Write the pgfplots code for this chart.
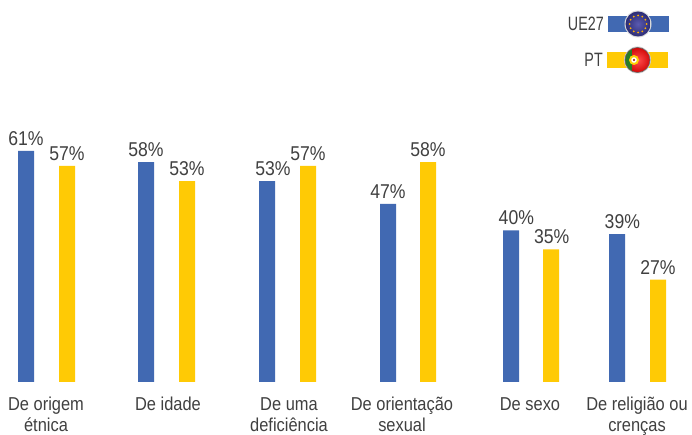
\documentclass[border=0pt]{standalone}
\usepackage{pgfplots}
\pgfplotsset{compat=1.18}
\usepackage{fontspec}
\setmainfont[FakeStretch=0.88]{Liberation Sans}
\newfontfamily\legfont[FakeStretch=0.74]{Liberation Sans}
\usetikzlibrary{calc}
\definecolor{euB}{HTML}{4169B2}
\definecolor{ptY}{HTML}{FFCA05}
\definecolor{txt}{HTML}{404040}
\definecolor{euIn}{HTML}{5A5AB0}
\definecolor{euOut}{HTML}{2C2C75}
\begin{document}
\begin{tikzpicture}[x=0.75pt,y=0.75pt]
\path[use as bounding box] (0,-53) rectangle (692,382);
\begin{axis}[
  at={(0,0)}, anchor=origin,
  scale only axis, width=519pt, height=286.5pt,
  xmin=0, xmax=692, ymin=0, ymax=100.79,
  clip=false,
  axis y line=none, axis x line*=bottom,
  axis line style={draw=none},
  ytick=\empty,
  xtick={46,168,289,402,530,637},
  xticklabels={De origem\\étnica,De idade,De uma\\deficiência,De orientação\\sexual,De sexo,De religião ou\\crenças},
  major tick length=0pt,
  xticklabel style={align=center,anchor=north,yshift=-7pt,text=txt,font=\fontsize{14}{15.75}\selectfont},
  typeset ticklabels with strut=false,
  visualization depends on={\thisrow{dx} \as \dx},
  nodes near coords={\pgfmathprintnumber[assume math mode=true]{\pgfplotspointmeta}\%},
  nodes near coords style={text=txt,font=\fontsize{15}{16}\selectfont,anchor=south,yshift=0.5pt,xshift=\dx pt,inner xsep=0pt},
  every axis plot/.append style={ybar,bar shift=0pt,bar width=12pt,draw=none},
]
\addplot[fill=euB] table[x=x,y=y] {
x y dx
26 61 0
146 58 0
267 53 4.5
388 47 0
511 40 4
617 39 4
};
\addplot[fill=ptY] table[x=x,y=y] {
x y dx
67 57 0
187 53 0
308 57 0
428 58 0
551 35 0.5
658 27 0
};
\end{axis}
% legend (y measured upward from the baseline, in reference pixels)
\fill[euB] (608,350) rectangle (669,366);
\fill[ptY] (607,314) rectangle (668,330);
\node[anchor=east,text=txt,inner sep=0pt,font=\legfont\fontsize{14.5}{16}\selectfont] at (604,358) {UE27};
\node[anchor=east,text=txt,inner sep=0pt,font=\legfont\fontsize{14.5}{16}\selectfont] at (603,322) {PT};
% EU badge
\fill[black!15] (638,358) circle (13.5);
\shade[inner color=euIn, outer color=euOut] (638,358) circle (12.5);
\foreach \a in {0,30,...,330}{\fill[orange!60!yellow] ($(638,358)+(\a:8.5)$) circle (1);}
% PT badge
\fill[black!20] (637.5,322) circle (13.5);
\begin{scope}
\clip (637.5,322) circle (12.5);
\shade[inner color=red!70!white, outer color=red!80!black] (624,308) rectangle (652,336);
\fill[green!40!black!85!white] (624,308) rectangle (631.5,336);
\end{scope}
\draw[black!60,line width=0.4pt] (637.5,322) circle (12.5);
\fill[yellow!70!orange] (634,322) circle (5);
\fill[white] (634,322) circle (2.8);
\fill[red!60!black] (634,322) circle (1.1);
\end{tikzpicture}
\end{document}
